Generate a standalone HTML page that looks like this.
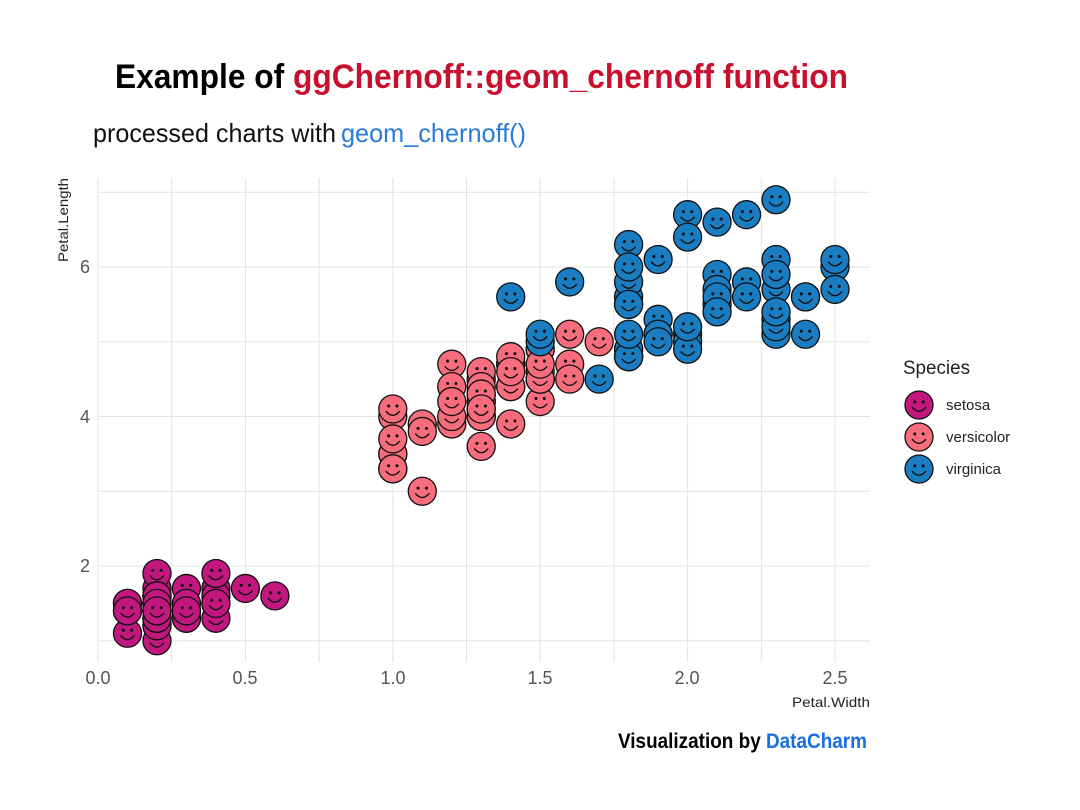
<!DOCTYPE html>
<html><head><meta charset="utf-8"><style>
body{margin:0;background:#fff;}
svg{display:block;font-family:"Liberation Sans",sans-serif;}
</style></head><body>
<svg id="s" width="1080" height="810" viewBox="0 0 1080 810">
<rect width="1080" height="810" fill="#fff"/>
<g id="grid" stroke="#e3e3e3" stroke-width="1"></g>
<text x="115" y="88" font-size="34" font-weight="bold" textLength="733" lengthAdjust="spacingAndGlyphs"><tspan fill="#000">Example of </tspan><tspan fill="#c8102e">ggChernoff::geom_chernoff  function</tspan></text>
<text x="93" y="142" font-size="26" fill="#111" textLength="243" lengthAdjust="spacingAndGlyphs">processed charts with</text>
<text x="341" y="142" font-size="26" fill="#2a7bd6" textLength="185" lengthAdjust="spacingAndGlyphs">geom_chernoff()</text>
<text transform="translate(68,262) rotate(-90)" font-size="14" fill="#222" textLength="84" lengthAdjust="spacingAndGlyphs">Petal.Length</text>
<g font-size="18" fill="#555" text-anchor="end">
<text x="90" y="273">6</text><text x="90" y="423">4</text><text x="90" y="572">2</text>
</g>
<g font-size="18" fill="#555" text-anchor="middle">
<text x="98" y="684">0.0</text><text x="245" y="684">0.5</text><text x="393" y="684">1.0</text><text x="540" y="684">1.5</text><text x="687" y="684">2.0</text><text x="835" y="684">2.5</text>
</g>
<text x="870" y="707" font-size="14" fill="#222" text-anchor="end" textLength="78" lengthAdjust="spacingAndGlyphs">Petal.Width</text>
<g id="pts"></g>
<text x="903" y="374" font-size="19" fill="#222" textLength="67" lengthAdjust="spacingAndGlyphs">Species</text>
<g id="leg" font-size="15" fill="#222"></g>
<text x="867" y="748" font-size="21" font-weight="bold" text-anchor="end" textLength="249" lengthAdjust="spacingAndGlyphs"><tspan fill="#000">Visualization by </tspan><tspan fill="#1a6fe0">DataCharm</tspan></text>
</svg>
<script>
var NS="http://www.w3.org/2000/svg";
function X(v){return 98+v*294.8;}function Y(v){return 715.5-v*74.75;}
var g=document.getElementById('grid'),h='';
for(var i=0;i<=10;i++){var x=X(i*0.25);h+='<line x1="'+x+'" y1="178" x2="'+x+'" y2="662"/>';}
for(var v=1;v<=7;v++){h+='<line x1="98" y1="'+Y(v)+'" x2="870" y2="'+Y(v)+'"/>';}
g.innerHTML=h;
function face(cx,cy,c,r){r=r||14;
return '<circle cx="'+cx+'" cy="'+cy+'" r="'+r+'" fill="'+c+'" stroke="#111" stroke-width="1.3"/>'+
'<circle cx="'+(cx-r*0.3)+'" cy="'+(cy-r*0.22)+'" r="'+(r*0.11)+'" fill="#111"/>'+
'<circle cx="'+(cx+r*0.3)+'" cy="'+(cy-r*0.22)+'" r="'+(r*0.11)+'" fill="#111"/>'+
'<path d="M'+(cx-r*0.5)+' '+(cy+r*0.15)+' Q'+cx+' '+(cy+r*0.75)+' '+(cx+r*0.5)+' '+(cy+r*0.15)+'" fill="none" stroke="#111" stroke-width="1.4"/>';}
var se="1.4 .2,1.4 .2,1.3 .2,1.5 .2,1.4 .2,1.7 .4,1.4 .3,1.5 .2,1.4 .2,1.5 .1,1.5 .2,1.6 .2,1.4 .1,1.1 .1,1.2 .2,1.5 .4,1.3 .4,1.4 .3,1.7 .3,1.5 .3,1.7 .2,1.5 .4,1.0 .2,1.7 .5,1.9 .2,1.6 .2,1.6 .4,1.5 .2,1.4 .2,1.6 .2,1.6 .2,1.5 .4,1.5 .1,1.4 .2,1.5 .2,1.2 .2,1.3 .2,1.4 .1,1.3 .2,1.5 .2,1.3 .3,1.3 .3,1.3 .2,1.6 .6,1.9 .4,1.4 .3,1.6 .2,1.4 .2,1.5 .2,1.4 .2";
var ve="4.7 1.4,4.5 1.5,4.9 1.5,4.0 1.3,4.6 1.5,4.5 1.3,4.7 1.6,3.3 1.0,4.6 1.3,3.9 1.4,3.5 1.0,4.2 1.5,4.0 1.0,4.7 1.4,3.6 1.3,4.4 1.4,4.5 1.5,4.1 1.0,4.5 1.5,3.9 1.1,4.8 1.8,4.0 1.3,4.9 1.5,4.7 1.2,4.3 1.3,4.4 1.4,4.8 1.4,5.0 1.7,4.5 1.5,3.5 1.0,3.8 1.1,3.7 1.0,3.9 1.2,5.1 1.6,4.5 1.5,4.5 1.6,4.7 1.5,4.4 1.3,4.1 1.3,4.0 1.3,4.4 1.2,4.6 1.4,4.0 1.2,3.3 1.0,4.2 1.3,4.2 1.2,4.2 1.3,4.3 1.3,3.0 1.1,4.1 1.3";
var vi="6.0 2.5,5.1 1.9,5.9 2.1,5.6 1.8,5.8 2.2,6.6 2.1,4.5 1.7,6.3 1.8,5.8 1.8,6.1 2.5,5.1 2.0,5.3 1.9,5.5 2.1,5.0 2.0,5.1 2.4,5.3 2.3,5.5 1.8,6.7 2.2,6.9 2.3,5.0 1.5,5.7 2.3,4.9 2.0,6.7 2.0,4.9 1.8,5.7 2.1,6.0 1.8,4.8 1.8,4.9 1.8,5.6 2.1,5.8 1.6,6.1 1.9,6.4 2.0,5.6 2.2,5.1 1.5,5.6 1.4,6.1 2.3,5.6 2.4,5.5 1.8,4.8 1.8,5.4 2.1,5.6 2.4,5.1 2.3,5.1 1.9,5.9 2.3,5.7 2.5,5.2 2.3,5.0 1.9,5.2 2.0,5.4 2.3,5.1 1.8";
var out='';
[[se,"#c1177f"],[ve,"#f76d7e"],[vi,"#1a7dc2"]].forEach(function(s){
s[0].split(',').forEach(function(p){var a=p.split(' ');out+=face(X(+a[1]),Y(+a[0]),s[1]);});});
document.getElementById('pts').innerHTML=out;
var L=[["setosa","#c1177f",405],["versicolor","#f76d7e",437],["virginica","#1a7dc2",469]],lg='';
L.forEach(function(l){lg+=face(919,l[2],l[1],14)+'<text x="946" y="'+(l[2]+5)+'">'+l[0]+'</text>';});
document.getElementById('leg').innerHTML=lg;
</script>
</body></html>
